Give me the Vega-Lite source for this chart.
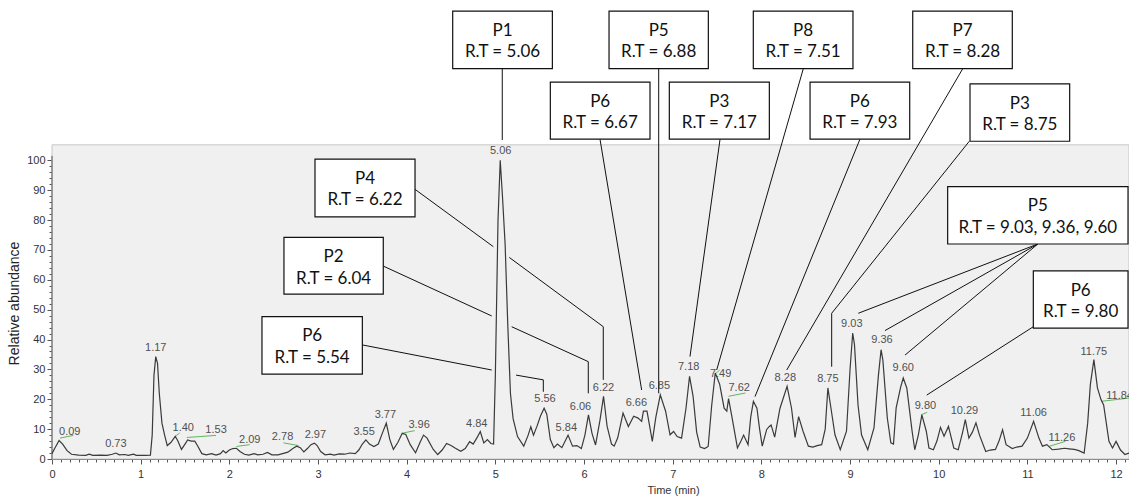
{
  "$schema": "https://vega.github.io/schema/vega-lite/v6.json",
  "width": 1077,
  "height": 459,
  "autosize": {"type": "none"},
  "padding": {"left": 52, "top": 0, "right": 0, "bottom": 38},
  "background": "white",
  "config": {"view": {"stroke": null}, "font": "Liberation Sans"},
  "datasets": {
    "bg": [{"x1": 0, "x2": 12.146, "y1": 0, "y2": 105.2}],
    "yaxisline": [{"x": 0, "y1": 0, "y2": 101.5}],
    "trace": [
      {"t": 0.00, "v": 1.8}, {"t": 0.03, "v": 3.5}, {"t": 0.08, "v": 6.2}, {"t": 0.12, "v": 5.0}, {"t": 0.17, "v": 2.8},
      {"t": 0.22, "v": 1.6}, {"t": 0.30, "v": 1.3}, {"t": 0.38, "v": 1.2}, {"t": 0.42, "v": 1.6}, {"t": 0.46, "v": 1.2},
      {"t": 0.55, "v": 1.3}, {"t": 0.62, "v": 1.2}, {"t": 0.68, "v": 1.6}, {"t": 0.72, "v": 2.0}, {"t": 0.76, "v": 1.4},
      {"t": 0.82, "v": 1.5}, {"t": 0.86, "v": 1.2}, {"t": 0.92, "v": 1.6}, {"t": 0.95, "v": 1.2}, {"t": 1.05, "v": 1.2},
      {"t": 1.11, "v": 1.3}, {"t": 1.13, "v": 8.0}, {"t": 1.15, "v": 28.0}, {"t": 1.17, "v": 34.3}, {"t": 1.19, "v": 32.0},
      {"t": 1.21, "v": 22.0}, {"t": 1.24, "v": 12.0}, {"t": 1.27, "v": 8.0}, {"t": 1.30, "v": 4.5}, {"t": 1.34, "v": 5.5},
      {"t": 1.39, "v": 7.6}, {"t": 1.42, "v": 6.0}, {"t": 1.46, "v": 3.2}, {"t": 1.50, "v": 5.0}, {"t": 1.53, "v": 6.4},
      {"t": 1.57, "v": 6.0}, {"t": 1.61, "v": 6.0}, {"t": 1.64, "v": 4.5}, {"t": 1.69, "v": 1.8}, {"t": 1.74, "v": 1.4},
      {"t": 1.80, "v": 1.8}, {"t": 1.85, "v": 1.3}, {"t": 1.90, "v": 1.8}, {"t": 1.93, "v": 2.8}, {"t": 1.96, "v": 2.0},
      {"t": 2.00, "v": 3.0}, {"t": 2.04, "v": 3.5}, {"t": 2.08, "v": 3.6}, {"t": 2.12, "v": 2.5}, {"t": 2.17, "v": 1.6},
      {"t": 2.22, "v": 1.3}, {"t": 2.28, "v": 1.8}, {"t": 2.32, "v": 1.4}, {"t": 2.38, "v": 1.6}, {"t": 2.43, "v": 2.2},
      {"t": 2.48, "v": 1.4}, {"t": 2.55, "v": 1.4}, {"t": 2.60, "v": 1.8}, {"t": 2.66, "v": 2.3}, {"t": 2.72, "v": 3.6},
      {"t": 2.76, "v": 4.3}, {"t": 2.80, "v": 3.8}, {"t": 2.84, "v": 2.4}, {"t": 2.88, "v": 3.5}, {"t": 2.92, "v": 4.8},
      {"t": 2.96, "v": 5.3}, {"t": 2.99, "v": 4.5}, {"t": 3.03, "v": 2.5}, {"t": 3.08, "v": 1.4}, {"t": 3.14, "v": 1.6},
      {"t": 3.18, "v": 1.3}, {"t": 3.24, "v": 1.7}, {"t": 3.30, "v": 1.6}, {"t": 3.36, "v": 2.0}, {"t": 3.42, "v": 1.8},
      {"t": 3.46, "v": 3.0}, {"t": 3.50, "v": 5.0}, {"t": 3.54, "v": 6.4}, {"t": 3.58, "v": 5.0}, {"t": 3.63, "v": 4.2},
      {"t": 3.68, "v": 5.0}, {"t": 3.73, "v": 9.0}, {"t": 3.77, "v": 12.0}, {"t": 3.81, "v": 6.5}, {"t": 3.85, "v": 3.2},
      {"t": 3.90, "v": 5.5}, {"t": 3.95, "v": 8.6}, {"t": 3.99, "v": 8.2}, {"t": 4.04, "v": 4.8}, {"t": 4.10, "v": 2.1},
      {"t": 4.15, "v": 5.5}, {"t": 4.19, "v": 8.0}, {"t": 4.23, "v": 7.0}, {"t": 4.30, "v": 3.2}, {"t": 4.35, "v": 1.5},
      {"t": 4.40, "v": 3.0}, {"t": 4.45, "v": 5.2}, {"t": 4.50, "v": 4.5}, {"t": 4.55, "v": 3.6}, {"t": 4.61, "v": 2.6},
      {"t": 4.66, "v": 3.5}, {"t": 4.71, "v": 5.8}, {"t": 4.75, "v": 5.0}, {"t": 4.80, "v": 7.5}, {"t": 4.83, "v": 9.2},
      {"t": 4.87, "v": 5.4}, {"t": 4.91, "v": 6.5}, {"t": 4.95, "v": 5.2}, {"t": 4.98, "v": 5.0}, {"t": 5.00, "v": 28.0},
      {"t": 5.03, "v": 80.0}, {"t": 5.055, "v": 100.0}, {"t": 5.08, "v": 88.0}, {"t": 5.11, "v": 72.0}, {"t": 5.14, "v": 45.0},
      {"t": 5.17, "v": 22.0}, {"t": 5.20, "v": 13.5}, {"t": 5.25, "v": 7.5}, {"t": 5.32, "v": 4.3}, {"t": 5.37, "v": 8.0},
      {"t": 5.40, "v": 10.8}, {"t": 5.43, "v": 8.0}, {"t": 5.47, "v": 11.0}, {"t": 5.51, "v": 14.5}, {"t": 5.55, "v": 17.0},
      {"t": 5.58, "v": 15.0}, {"t": 5.62, "v": 6.5}, {"t": 5.66, "v": 3.8}, {"t": 5.70, "v": 5.0}, {"t": 5.75, "v": 3.8},
      {"t": 5.82, "v": 8.0}, {"t": 5.87, "v": 4.3}, {"t": 5.92, "v": 4.5}, {"t": 5.97, "v": 3.5}, {"t": 6.01, "v": 8.0},
      {"t": 6.05, "v": 14.8}, {"t": 6.09, "v": 8.6}, {"t": 6.13, "v": 4.7}, {"t": 6.18, "v": 13.0}, {"t": 6.22, "v": 21.0},
      {"t": 6.26, "v": 11.0}, {"t": 6.31, "v": 5.0}, {"t": 6.34, "v": 4.3}, {"t": 6.38, "v": 7.1}, {"t": 6.44, "v": 15.4},
      {"t": 6.50, "v": 10.9}, {"t": 6.56, "v": 14.3}, {"t": 6.61, "v": 13.7}, {"t": 6.65, "v": 12.6}, {"t": 6.67, "v": 16.0},
      {"t": 6.71, "v": 16.0}, {"t": 6.74, "v": 11.0}, {"t": 6.77, "v": 5.9}, {"t": 6.81, "v": 14.0}, {"t": 6.86, "v": 21.5},
      {"t": 6.92, "v": 16.0}, {"t": 6.97, "v": 8.1}, {"t": 7.01, "v": 9.2}, {"t": 7.05, "v": 7.5}, {"t": 7.10, "v": 7.0},
      {"t": 7.15, "v": 17.0}, {"t": 7.19, "v": 27.7}, {"t": 7.23, "v": 21.0}, {"t": 7.27, "v": 9.0}, {"t": 7.31, "v": 4.0},
      {"t": 7.36, "v": 3.5}, {"t": 7.40, "v": 4.2}, {"t": 7.44, "v": 18.0}, {"t": 7.48, "v": 28.8}, {"t": 7.53, "v": 25.0},
      {"t": 7.58, "v": 17.0}, {"t": 7.61, "v": 16.0}, {"t": 7.63, "v": 20.2}, {"t": 7.67, "v": 13.8}, {"t": 7.73, "v": 3.7},
      {"t": 7.77, "v": 6.0}, {"t": 7.80, "v": 8.0}, {"t": 7.85, "v": 4.8}, {"t": 7.88, "v": 14.0}, {"t": 7.91, "v": 19.3},
      {"t": 7.95, "v": 17.0}, {"t": 7.98, "v": 10.0}, {"t": 8.01, "v": 4.3}, {"t": 8.06, "v": 9.9}, {"t": 8.09, "v": 10.9},
      {"t": 8.11, "v": 11.4}, {"t": 8.15, "v": 7.3}, {"t": 8.21, "v": 17.0}, {"t": 8.29, "v": 24.3}, {"t": 8.34, "v": 17.0},
      {"t": 8.38, "v": 7.2}, {"t": 8.42, "v": 14.2}, {"t": 8.47, "v": 9.3}, {"t": 8.53, "v": 4.3}, {"t": 8.58, "v": 4.0},
      {"t": 8.63, "v": 4.5}, {"t": 8.68, "v": 4.8}, {"t": 8.72, "v": 10.0}, {"t": 8.75, "v": 23.8}, {"t": 8.79, "v": 16.0},
      {"t": 8.83, "v": 8.1}, {"t": 8.89, "v": 3.1}, {"t": 8.96, "v": 9.3}, {"t": 9.00, "v": 30.0}, {"t": 9.03, "v": 42.2},
      {"t": 9.05, "v": 38.3}, {"t": 9.09, "v": 18.1}, {"t": 9.13, "v": 8.0}, {"t": 9.20, "v": 3.1}, {"t": 9.27, "v": 10.4},
      {"t": 9.32, "v": 28.0}, {"t": 9.35, "v": 36.6}, {"t": 9.37, "v": 33.2}, {"t": 9.42, "v": 13.8}, {"t": 9.46, "v": 5.4},
      {"t": 9.49, "v": 5.0}, {"t": 9.52, "v": 17.1}, {"t": 9.57, "v": 24.0}, {"t": 9.60, "v": 27.1}, {"t": 9.64, "v": 23.8},
      {"t": 9.70, "v": 9.3}, {"t": 9.73, "v": 3.1}, {"t": 9.77, "v": 8.0}, {"t": 9.81, "v": 14.8}, {"t": 9.86, "v": 9.3},
      {"t": 9.89, "v": 3.7}, {"t": 9.94, "v": 3.1}, {"t": 9.98, "v": 6.0}, {"t": 10.02, "v": 10.6}, {"t": 10.06, "v": 7.6},
      {"t": 10.11, "v": 10.9}, {"t": 10.17, "v": 3.7}, {"t": 10.22, "v": 3.1}, {"t": 10.27, "v": 9.0}, {"t": 10.30, "v": 13.2},
      {"t": 10.34, "v": 7.0}, {"t": 10.38, "v": 9.0}, {"t": 10.42, "v": 12.1}, {"t": 10.46, "v": 8.0}, {"t": 10.53, "v": 2.5},
      {"t": 10.58, "v": 3.0}, {"t": 10.64, "v": 3.2}, {"t": 10.68, "v": 6.0}, {"t": 10.72, "v": 9.8}, {"t": 10.76, "v": 4.8},
      {"t": 10.83, "v": 3.5}, {"t": 10.88, "v": 4.0}, {"t": 10.94, "v": 4.3}, {"t": 11.00, "v": 7.0}, {"t": 11.07, "v": 12.6},
      {"t": 11.13, "v": 7.0}, {"t": 11.17, "v": 4.3}, {"t": 11.22, "v": 4.8}, {"t": 11.28, "v": 3.1}, {"t": 11.35, "v": 3.3},
      {"t": 11.42, "v": 3.6}, {"t": 11.47, "v": 3.4}, {"t": 11.53, "v": 3.2}, {"t": 11.58, "v": 2.8}, {"t": 11.64, "v": 2.0},
      {"t": 11.68, "v": 12.0}, {"t": 11.71, "v": 24.9}, {"t": 11.75, "v": 33.3}, {"t": 11.79, "v": 23.8}, {"t": 11.83, "v": 19.9},
      {"t": 11.86, "v": 18.1}, {"t": 11.92, "v": 5.9}, {"t": 11.96, "v": 3.7}, {"t": 12.00, "v": 5.9}, {"t": 12.05, "v": 3.0},
      {"t": 12.10, "v": 1.5}, {"t": 12.146, "v": 2.0}
    ],
    "peaklabels": [
      {"t": 0.20, "v": 9.1, "s": "0.09"}, {"t": 0.72, "v": 5.0, "s": "0.73"}, {"t": 1.17, "v": 37.1, "s": "1.17"},
      {"t": 1.48, "v": 10.3, "s": "1.40"}, {"t": 1.85, "v": 9.7, "s": "1.53"}, {"t": 2.23, "v": 6.4, "s": "2.09"},
      {"t": 2.60, "v": 7.2, "s": "2.78"}, {"t": 2.97, "v": 8.0, "s": "2.97"}, {"t": 3.52, "v": 9.1, "s": "3.55"},
      {"t": 3.76, "v": 14.7, "s": "3.77"}, {"t": 4.14, "v": 11.4, "s": "3.96"}, {"t": 4.79, "v": 11.7, "s": "4.84"},
      {"t": 5.06, "v": 103.1, "s": "5.06"}, {"t": 5.56, "v": 20.0, "s": "5.56"}, {"t": 5.80, "v": 10.5, "s": "5.84"},
      {"t": 5.96, "v": 17.5, "s": "6.06"}, {"t": 6.22, "v": 23.7, "s": "6.22"}, {"t": 6.59, "v": 18.6, "s": "6.66"},
      {"t": 6.85, "v": 24.5, "s": "6.85"}, {"t": 7.18, "v": 30.9, "s": "7.18"}, {"t": 7.54, "v": 28.6, "s": "7.49"},
      {"t": 7.75, "v": 23.7, "s": "7.62"}, {"t": 8.27, "v": 27.2, "s": "8.28"}, {"t": 8.75, "v": 26.7, "s": "8.75"},
      {"t": 9.02, "v": 45.2, "s": "9.03"}, {"t": 9.36, "v": 39.9, "s": "9.36"}, {"t": 9.60, "v": 30.4, "s": "9.60"},
      {"t": 9.85, "v": 17.7, "s": "9.80"}, {"t": 10.29, "v": 16.1, "s": "10.29"}, {"t": 11.07, "v": 15.5, "s": "11.06"},
      {"t": 11.39, "v": 6.9, "s": "11.26"}, {"t": 11.75, "v": 35.7, "s": "11.75"}, {"t": 12.04, "v": 21.2, "s": "11.84"}
    ],
    "greens": [
      {"x1": 0.09, "y1": 7.0, "x2": 0.24, "y2": 7.9}, {"x1": 1.39, "y1": 7.6, "x2": 1.44, "y2": 8.7},
      {"x1": 1.52, "y1": 7.2, "x2": 1.85, "y2": 7.9}, {"x1": 2.08, "y1": 4.2, "x2": 2.23, "y2": 4.8},
      {"x1": 2.61, "y1": 5.4, "x2": 2.78, "y2": 4.5}, {"x1": 3.96, "y1": 8.7, "x2": 4.09, "y2": 9.5},
      {"x1": 7.48, "y1": 28.5, "x2": 7.53, "y2": 29.8}, {"x1": 7.63, "y1": 21.0, "x2": 7.82, "y2": 22.1},
      {"x1": 9.80, "y1": 14.8, "x2": 9.87, "y2": 15.6}, {"x1": 11.24, "y1": 4.2, "x2": 11.43, "y2": 5.9},
      {"x1": 11.83, "y1": 19.3, "x2": 12.146, "y2": 20.4}
    ],
    "segs": [
      {"x1": 5.078, "y1": 130.7, "x2": 5.078, "y2": 106.8},
      {"x1": 6.842, "y1": 130.7, "x2": 6.842, "y2": 22.0},
      {"x1": 6.180, "y1": 107.1, "x2": 6.650, "y2": 23.1},
      {"x1": 8.473, "y1": 130.7, "x2": 7.496, "y2": 29.8},
      {"x1": 7.534, "y1": 107.1, "x2": 7.195, "y2": 34.3},
      {"x1": 10.271, "y1": 130.7, "x2": 8.286, "y2": 29.8},
      {"x1": 9.112, "y1": 107.1, "x2": 7.928, "y2": 20.9},
      {"x1": 10.345, "y1": 106.4, "x2": 8.793, "y2": 48.8},
      {"x1": 8.793, "y1": 48.8, "x2": 8.793, "y2": 30.9},
      {"x1": 4.094, "y1": 90.3, "x2": 4.977, "y2": 71.1},
      {"x1": 5.157, "y1": 67.5, "x2": 6.217, "y2": 44.3},
      {"x1": 6.217, "y1": 44.3, "x2": 6.217, "y2": 26.5},
      {"x1": 3.736, "y1": 64.6, "x2": 4.959, "y2": 47.9},
      {"x1": 5.184, "y1": 44.3, "x2": 6.048, "y2": 32.6},
      {"x1": 6.048, "y1": 32.6, "x2": 6.048, "y2": 22.0},
      {"x1": 3.500, "y1": 38.2, "x2": 4.959, "y2": 29.8},
      {"x1": 5.233, "y1": 28.1, "x2": 5.541, "y2": 26.5},
      {"x1": 5.541, "y1": 26.5, "x2": 5.541, "y2": 22.5},
      {"x1": 11.118, "y1": 72.0, "x2": 9.093, "y2": 48.8},
      {"x1": 11.118, "y1": 72.0, "x2": 9.394, "y2": 43.0},
      {"x1": 11.118, "y1": 72.0, "x2": 9.620, "y2": 34.8},
      {"x1": 11.067, "y1": 44.3, "x2": 9.865, "y2": 21.4}
    ],
    "boxes": [
      {"x1": 4.519, "x2": 5.643, "top": 150.0, "bot": 130.7, "xc": 5.081, "l1": "P1", "l2": "R.T = 5.06"},
      {"x1": 6.282, "x2": 7.402, "top": 150.0, "bot": 130.7, "xc": 6.842, "l1": "P5", "l2": "R.T = 6.88"},
      {"x1": 7.909, "x2": 9.033, "top": 150.0, "bot": 130.7, "xc": 8.471, "l1": "P8", "l2": "R.T = 7.51"},
      {"x1": 9.707, "x2": 10.830, "top": 150.0, "bot": 130.7, "xc": 10.269, "l1": "P7", "l2": "R.T = 8.28"},
      {"x1": 5.620, "x2": 6.744, "top": 126.2, "bot": 107.1, "xc": 6.182, "l1": "P6", "l2": "R.T = 6.67"},
      {"x1": 6.962, "x2": 8.090, "top": 126.2, "bot": 107.1, "xc": 7.526, "l1": "P3", "l2": "R.T = 7.17"},
      {"x1": 8.549, "x2": 9.673, "top": 126.2, "bot": 107.1, "xc": 9.111, "l1": "P6", "l2": "R.T = 7.93"},
      {"x1": 10.353, "x2": 11.477, "top": 125.6, "bot": 106.4, "xc": 10.915, "l1": "P3", "l2": "R.T = 8.75"},
      {"x1": 2.966, "x2": 4.094, "top": 100.4, "bot": 81.1, "xc": 3.530, "l1": "P4", "l2": "R.T = 6.22"},
      {"x1": 2.616, "x2": 3.736, "top": 74.2, "bot": 55.2, "xc": 3.176, "l1": "P2", "l2": "R.T = 6.04"},
      {"x1": 2.368, "x2": 3.500, "top": 47.7, "bot": 28.4, "xc": 2.934, "l1": "P6", "l2": "R.T = 5.54"},
      {"x1": 10.101, "x2": 12.135, "top": 91.2, "bot": 72.0, "xc": 11.118, "l1": "P5", "l2": "R.T = 9.03, 9.36, 9.60"},
      {"x1": 11.067, "x2": 12.135, "top": 63.0, "bot": 43.8, "xc": 11.601, "l1": "P6", "l2": "R.T = 9.80"}
    ]
  },
  "layer": [
    {
      "data": {"name": "bg"},
      "mark": {"type": "rect", "fill": "#f0f0f0", "stroke": "#c6c6c6", "strokeWidth": 1},
      "encoding": {
        "x": {
          "field": "x1", "type": "quantitative",
          "scale": {"domain": [0, 12.146], "nice": false, "zero": false},
          "axis": {
            "values": [0,0.1,0.2,0.3,0.4,0.5,0.6,0.7,0.8,0.9,1,1.1,1.2,1.3,1.4,1.5,1.6,1.7,1.8,1.9,2,2.1,2.2,2.3,2.4,2.5,2.6,2.7,2.8,2.9,3,3.1,3.2,3.3,3.4,3.5,3.6,3.7,3.8,3.9,4,4.1,4.2,4.3,4.4,4.5,4.6,4.7,4.8,4.9,5,5.1,5.2,5.3,5.4,5.5,5.6,5.7,5.8,5.9,6,6.1,6.2,6.3,6.4,6.5,6.6,6.7,6.8,6.9,7,7.1,7.2,7.3,7.4,7.5,7.6,7.7,7.8,7.9,8,8.1,8.2,8.3,8.4,8.5,8.6,8.7,8.8,8.9,9,9.1,9.2,9.3,9.4,9.5,9.6,9.7,9.8,9.9,10,10.1,10.2,10.3,10.4,10.5,10.6,10.7,10.8,10.9,11,11.1,11.2,11.3,11.4,11.5,11.6,11.7,11.8,11.9,12,12.1],
            "tickCount": 1000,
            "labelExpr": "datum.value % 1 === 0 ? '' + datum.value : ''",
            "tickSize": {"condition": {"test": "datum.value % 1 === 0", "value": 5}, "value": 3},
            "labelOverlap": false, "labelFlush": false, "grid": false,
            "domainColor": "#555555", "tickColor": "#555555",
            "labelColor": "#333333", "labelFontSize": 11, "labelPadding": 4,
            "title": "Time (min)", "titleFontSize": 11, "titleFontWeight": "normal", "titleColor": "#333333",
            "titlePadding": 5, "titleX": 621
          }
        },
        "x2": {"field": "x2"},
        "y": {
          "field": "y1", "type": "quantitative",
          "scale": {"domain": [0, 153.7], "nice": false, "zero": false},
          "axis": {
            "values": [0,2,4,6,8,10,12,14,16,18,20,22,24,26,28,30,32,34,36,38,40,42,44,46,48,50,52,54,56,58,60,62,64,66,68,70,72,74,76,78,80,82,84,86,88,90,92,94,96,98,100],
            "tickCount": 1000,
            "labelExpr": "datum.value % 10 === 0 ? '' + datum.value : ''",
            "tickSize": {"condition": {"test": "datum.value % 10 === 0", "value": 5}, "value": 3},
            "labelOverlap": false, "labelFlush": false, "grid": false, "domain": false,
            "tickColor": "#555555", "labelColor": "#333333", "labelFontSize": 11, "labelPadding": 2,
            "title": "Relative abundance", "titleFontSize": 14, "titleFontWeight": "normal", "titleColor": "#222222",
            "titlePadding": 5, "titleY": 303
          }
        },
        "y2": {"field": "y2"}
      }
    },
    {
      "data": {"name": "yaxisline"},
      "mark": {"type": "rule", "color": "#555555", "strokeWidth": 1},
      "encoding": {
        "x": {"field": "x", "type": "quantitative", "scale": {"domain": [0, 12.146], "nice": false, "zero": false}},
        "y": {"field": "y1", "type": "quantitative", "scale": {"domain": [0, 153.7], "nice": false, "zero": false}},
        "y2": {"field": "y2"}
      }
    },
    {
      "data": {"name": "greens"},
      "mark": {"type": "rule", "color": "#5cb85c", "strokeWidth": 1},
      "encoding": {
        "x": {"field": "x1", "type": "quantitative", "scale": {"domain": [0, 12.146], "nice": false, "zero": false}},
        "x2": {"field": "x2"},
        "y": {"field": "y1", "type": "quantitative", "scale": {"domain": [0, 153.7], "nice": false, "zero": false}},
        "y2": {"field": "y2"}
      }
    },
    {
      "data": {"name": "trace"},
      "mark": {"type": "line", "color": "#3a3a3a", "strokeWidth": 1.2, "interpolate": "linear"},
      "encoding": {
        "x": {"field": "t", "type": "quantitative", "scale": {"domain": [0, 12.146], "nice": false, "zero": false}},
        "y": {"field": "v", "type": "quantitative", "scale": {"domain": [0, 153.7], "nice": false, "zero": false}}
      }
    },
    {
      "data": {"name": "peaklabels"},
      "mark": {"type": "text", "font": "Liberation Sans", "fontSize": 11, "color": "#505050", "align": "center", "baseline": "middle"},
      "encoding": {
        "x": {"field": "t", "type": "quantitative", "scale": {"domain": [0, 12.146], "nice": false, "zero": false}},
        "y": {"field": "v", "type": "quantitative", "scale": {"domain": [0, 153.7], "nice": false, "zero": false}},
        "text": {"field": "s"}
      }
    },
    {
      "data": {"name": "segs"},
      "mark": {"type": "rule", "color": "#111111", "strokeWidth": 1},
      "encoding": {
        "x": {"field": "x1", "type": "quantitative", "scale": {"domain": [0, 12.146], "nice": false, "zero": false}},
        "x2": {"field": "x2"},
        "y": {"field": "y1", "type": "quantitative", "scale": {"domain": [0, 153.7], "nice": false, "zero": false}},
        "y2": {"field": "y2"}
      }
    },
    {
      "data": {"name": "boxes"},
      "mark": {"type": "rect", "fill": "white", "stroke": "#111111", "strokeWidth": 1.2},
      "encoding": {
        "x": {"field": "x1", "type": "quantitative", "scale": {"domain": [0, 12.146], "nice": false, "zero": false}},
        "x2": {"field": "x2"},
        "y": {"field": "top", "type": "quantitative", "scale": {"domain": [0, 153.7], "nice": false, "zero": false}},
        "y2": {"field": "bot"}
      }
    },
    {
      "data": {"name": "boxes"},
      "mark": {"type": "text", "font": "Lato", "fontSize": 17, "color": "#111111", "align": "center", "baseline": "middle", "dy": 19.7},
      "encoding": {
        "x": {"field": "xc", "type": "quantitative", "scale": {"domain": [0, 12.146], "nice": false, "zero": false}},
        "y": {"field": "top", "type": "quantitative", "scale": {"domain": [0, 153.7], "nice": false, "zero": false}},
        "text": {"field": "l1"}
      }
    },
    {
      "data": {"name": "boxes"},
      "mark": {"type": "text", "font": "Lato", "fontSize": 17, "color": "#111111", "align": "center", "baseline": "middle", "dy": 41.3},
      "encoding": {
        "x": {"field": "xc", "type": "quantitative", "scale": {"domain": [0, 12.146], "nice": false, "zero": false}},
        "y": {"field": "top", "type": "quantitative", "scale": {"domain": [0, 153.7], "nice": false, "zero": false}},
        "text": {"field": "l2"}
      }
    }
  ]
}
